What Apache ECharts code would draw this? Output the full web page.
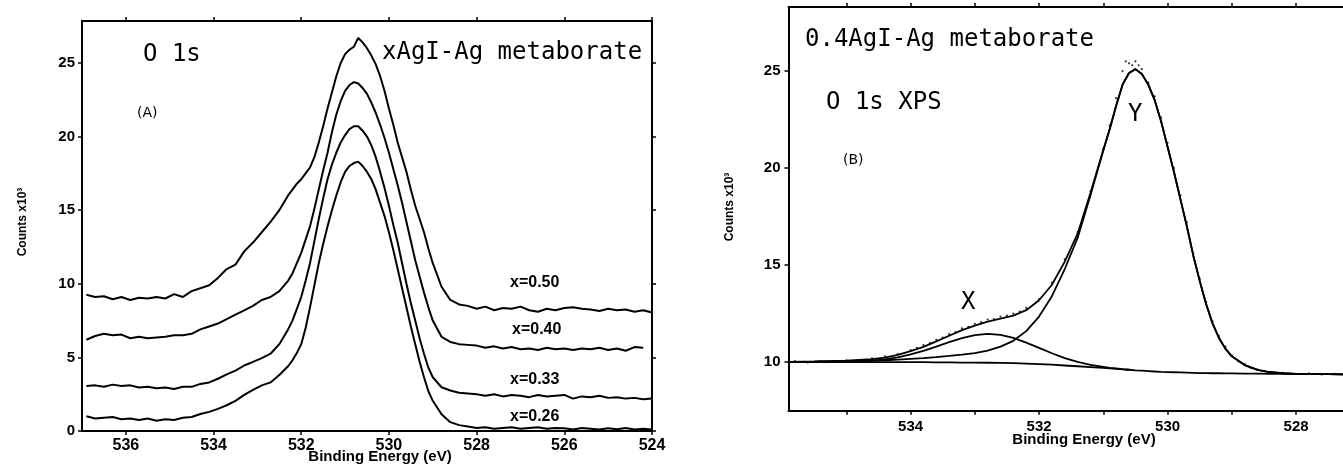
<!DOCTYPE html>
<html>
<head>
<meta charset="utf-8">
<script src="https://cdn.jsdelivr.net/npm/echarts@6/dist/echarts.min.js"></script>
<style>
html,body{margin:0;padding:0;background:#fff;}
#chart{width:1343px;height:467px;}
</style>
</head>
<body>
<div id="chart"></div>
<script>
// ---------- Panel A : O 1s spectra for xAgI-Ag metaborate ----------
const energyA = [536.9,536.7,536.5,536.3,536.1,535.9,535.7,535.5,535.3,535.1,534.9,534.7,534.5,534.3,534.1,533.9,533.7,533.5,533.3,533.1,532.9,532.7,532.5,532.3,
532.2,532.1,532.0,531.9,531.8,531.7,531.6,531.5,531.4,531.3,531.2,531.1,531.0,530.9,530.8,530.7,530.6,530.5,530.4,530.3,530.2,530.1,530.0,529.9,529.8,529.7,529.6,529.5,529.4,529.3,529.2,529.1,529.0,
528.8,528.6,528.4,528.2,528.0,527.8,527.6,527.4,527.2,527.0,526.8,526.6,526.4,526.2,526.0,525.8,525.6,525.4,525.2,525.0,524.8,524.6,524.4,524.2,524.0];

const countsX050 = [9.25,9.1,9.15,8.95,9.1,8.9,9.05,9.0,9.1,9.0,9.3,9.1,9.5,9.7,9.9,10.4,11.0,11.3,12.2,12.8,13.5,14.2,15.0,16.0,
16.4,16.8,17.1,17.5,17.9,18.6,19.6,20.7,21.9,23.0,24.1,25.0,25.6,25.9,26.1,26.7,26.4,26.0,25.5,24.9,24.1,23.1,21.9,20.8,19.6,18.6,17.6,16.4,15.3,14.4,13.5,12.4,11.4,
9.8,8.9,8.6,8.5,8.3,8.45,8.2,8.35,8.3,8.45,8.2,8.1,8.3,8.2,8.35,8.4,8.3,8.25,8.15,8.3,8.2,8.25,8.1,8.2,8.05];

const countsX040 = [6.2,6.45,6.6,6.5,6.55,6.3,6.4,6.3,6.35,6.4,6.5,6.5,6.6,6.9,7.1,7.3,7.6,7.9,8.2,8.5,8.9,9.1,9.5,10.2,
10.7,11.4,12.1,13.0,13.9,15.1,16.4,17.7,18.9,20.3,21.5,22.4,23.1,23.5,23.7,23.6,23.3,22.9,22.3,21.6,20.8,19.9,18.9,17.8,16.7,15.5,14.2,12.9,11.6,10.5,9.4,8.4,7.5,
6.4,6.05,5.9,5.85,5.8,5.65,5.75,5.6,5.7,5.55,5.6,5.5,5.65,5.55,5.6,5.5,5.6,5.55,5.65,5.5,5.6,5.45,5.7,5.65,null];

const countsX033 = [3.05,3.1,3.0,3.15,3.05,3.1,2.95,3.0,2.9,2.95,2.85,3.0,3.0,3.2,3.3,3.55,3.85,4.1,4.45,4.7,4.95,5.25,5.9,6.9,
7.5,8.3,9.1,10.2,11.4,12.9,14.4,15.8,17.1,18.1,18.9,19.6,20.1,20.5,20.7,20.7,20.4,20.0,19.4,18.6,17.6,16.5,15.3,14.0,12.8,11.4,10.0,8.7,7.5,6.3,5.25,4.3,3.65,
2.97,2.75,2.6,2.55,2.5,2.4,2.5,2.35,2.45,2.4,2.3,2.45,2.35,2.4,2.45,2.2,2.35,2.3,2.4,2.25,2.3,2.2,2.25,2.15,2.2];

const countsX026 = [1.0,0.85,0.9,0.95,0.8,0.85,0.75,0.85,0.7,0.8,0.75,0.9,0.95,1.15,1.3,1.5,1.75,2.05,2.45,2.8,3.1,3.3,3.8,4.4,
4.8,5.3,5.9,7.0,8.4,9.9,11.4,12.7,13.9,15.0,16.0,16.9,17.6,18.0,18.2,18.3,18.0,17.6,17.1,16.4,15.5,14.6,13.5,12.3,11.0,9.7,8.4,7.1,5.9,4.7,3.65,2.7,2.05,
1.14,0.6,0.4,0.3,0.2,0.25,0.15,0.2,0.25,0.15,0.2,0.25,0.15,0.2,0.18,0.1,0.2,0.15,0.1,0.18,0.12,0.2,0.1,0.15,0.1];

const ticksAX = [524,526,528,530,532,534,536];
const ticksAY = [0,5,10,15,20,25];

// ---------- Panel B : 0.4AgI-Ag metaborate, O 1s XPS fit ----------
const energyB = [535.9,535.5,535.0,534.6,534.4,534.2,534.0,533.8,533.6,533.4,533.2,533.0,532.8,532.6,532.4,532.2,532.0,531.8,531.6,531.4,531.2,531.0,
530.9,530.8,530.7,530.6,530.5,530.4,530.3,530.2,530.1,530.0,529.9,529.8,529.7,529.6,529.5,529.4,529.3,529.2,529.1,529.0,528.8,528.6,528.4,528.2,528.0,527.5,527.0];

const backgroundB = [10.0,10.0,10.0,10.0,10.0,10.0,10.0,10.0,9.99,9.99,9.98,9.98,9.97,9.96,9.95,9.93,9.9,9.87,9.83,9.79,9.75,9.71,
9.68,9.66,9.63,9.61,9.58,9.56,9.54,9.52,9.5,9.49,9.48,9.47,9.46,9.45,9.44,9.44,9.43,9.43,9.42,9.42,9.41,9.41,9.4,9.4,9.39,9.38,9.37];

const peakXB = [10.0,10.01,10.03,10.08,10.14,10.25,10.4,10.58,10.8,11.03,11.24,11.39,11.46,11.41,11.25,11.01,10.74,10.46,10.21,10.01,9.86,9.76,
9.71,9.68,9.64,9.61,null,null,null,null,null,null,null,null,null,null,null,null,null,null,null,null,null,null,null,null,null,null,null];

const peakYB = [10.02,10.03,10.05,10.08,10.1,10.13,10.17,10.21,10.26,10.32,10.39,10.47,10.6,10.8,11.1,11.6,12.35,13.4,14.8,16.4,18.6,20.9,
22.0,23.2,24.3,24.9,25.1,24.85,24.3,23.5,22.4,21.1,19.8,18.4,17.0,15.5,14.2,13.0,12.0,11.25,10.7,10.3,9.85,9.6,9.48,9.43,9.4,9.38,9.37];

const envelopeB = [10.02,10.04,10.08,10.16,10.24,10.38,10.57,10.79,11.07,11.36,11.65,11.88,12.09,12.25,12.4,12.68,13.19,13.99,15.18,16.62,18.71,20.95,
22.03,23.22,24.31,24.9,25.1,24.85,24.3,23.5,22.4,21.1,19.8,18.4,17.0,15.5,14.2,13.0,12.0,11.25,10.7,10.3,9.85,9.6,9.48,9.43,9.4,9.38,9.37];

const measuredB = [[535.8,10.05],[535.6,9.98],[535.4,10.06],[535.2,10.02],[535.0,10.1],[534.8,10.08],[534.6,10.2],[534.4,10.3],[534.2,10.42],[534.0,10.62],
[533.9,10.74],[533.8,10.88],[533.7,10.98],[533.6,11.15],[533.5,11.26],[533.4,11.45],[533.3,11.55],[533.2,11.74],[533.1,11.82],[533.0,11.98],
[532.9,12.06],[532.8,12.2],[532.7,12.22],[532.6,12.35],[532.5,12.4],[532.4,12.5],[532.3,12.6],[532.2,12.8],[532.0,13.25],[531.8,14.1],
[531.6,15.3],[531.4,16.7],[531.2,18.8],[531.0,21.0],[530.9,22.2],[530.8,23.6],[530.7,25.0],[530.65,25.5],[530.6,25.4],[530.55,25.3],
[530.5,25.5],[530.45,25.3],[530.4,25.1],[530.3,24.4],[530.2,23.7],[530.1,22.6],[530.0,21.3],[529.9,20.0],[529.8,18.6],[529.7,17.2],
[529.6,15.6],[529.5,14.3],[529.4,13.1],[529.3,12.1],[529.2,11.35],[529.1,10.8],[529.0,10.35],[528.9,10.05],[528.8,9.9],[528.7,9.7],
[528.6,9.62],[528.5,9.55],[528.4,9.5],[528.2,9.45],[528.0,9.4],[527.8,9.42],[527.6,9.36],[527.4,9.4],[527.2,9.38]];

const ticksBXLabels = [528,530,532,534];
const ticksBXMarks = [528,529,530,531,532,533,534,535];
const ticksBY = [10,15,20,25];

// ---------- chart ----------
const chart = echarts.init(document.getElementById('chart'), null, {renderer:'canvas'});
const BLACK = '#000';
const axisLine = {show:true, onZero:false, lineStyle:{color:BLACK, width:2}};
const tickStyle = {color:BLACK, width:1.5};
const lblFont = {fontFamily:'Liberation Sans', fontWeight:'bold', color:BLACK};

function pairs(xs, ys){ return xs.map((x,i)=>[x, ys[i]]); }
function lineSeries(data, xi, yi, w){
  return {type:'line', xAxisIndex:xi, yAxisIndex:yi, data:data, showSymbol:false, symbol:'none',
    connectNulls:false, silent:true, animation:false, lineStyle:{color:BLACK, width:w}, z:3};
}

const option = {
  animation:false,
  backgroundColor:'#fff',
  grid:[
    {left:82, top:21, width:570, height:410, containLabel:false, outerBoundsMode:'none'},
    {left:788.5, top:7, width:571.8, height:403.7, containLabel:false, outerBoundsMode:'none'}
  ],
  xAxis:[
    {gridIndex:0, type:'value', position:'bottom', min:524, max:537, inverse:true,
      axisLine:axisLine, splitLine:{show:false},
      axisTick:{show:true, length:4, customValues:ticksAX, lineStyle:tickStyle},
      axisLabel:Object.assign({customValues:ticksAX, fontSize:16, margin:7}, lblFont)},
    {gridIndex:0, type:'value', position:'top', min:524, max:537, inverse:true,
      axisLine:axisLine, splitLine:{show:false},
      axisTick:{show:true, length:4, customValues:ticksAX, lineStyle:tickStyle},
      axisLabel:{show:false}},
    {gridIndex:1, type:'value', position:'bottom', min:527, max:535.9, inverse:true,
      axisLine:axisLine, splitLine:{show:false},
      axisTick:{show:true, length:4, customValues:ticksBXMarks, lineStyle:tickStyle},
      axisLabel:Object.assign({customValues:ticksBXLabels, fontSize:15, margin:9}, lblFont)},
    {gridIndex:1, type:'value', position:'top', min:527, max:535.9, inverse:true,
      axisLine:axisLine, splitLine:{show:false},
      axisTick:{show:true, length:4, customValues:ticksBXMarks, lineStyle:tickStyle},
      axisLabel:{show:false}}
  ],
  yAxis:[
    {gridIndex:0, type:'value', position:'left', min:0, max:27.85,
      axisLine:axisLine, splitLine:{show:false},
      axisTick:{show:true, length:4, customValues:ticksAY, lineStyle:tickStyle},
      axisLabel:Object.assign({customValues:ticksAY, fontSize:15, margin:7}, lblFont)},
    {gridIndex:0, type:'value', position:'right', min:0, max:27.85,
      axisLine:axisLine, splitLine:{show:false},
      axisTick:{show:true, length:4, customValues:ticksAY, lineStyle:tickStyle},
      axisLabel:{show:false}},
    {gridIndex:1, type:'value', position:'left', min:7.5, max:28.3,
      axisLine:axisLine, splitLine:{show:false},
      axisTick:{show:true, length:4, customValues:ticksBY, lineStyle:tickStyle},
      axisLabel:Object.assign({customValues:ticksBY, fontSize:15, margin:8}, lblFont)},
    {gridIndex:1, type:'value', position:'right', min:7.5, max:28.3,
      axisLine:axisLine, splitLine:{show:false},
      axisTick:{show:false}, axisLabel:{show:false}}
  ],
  series:[
    lineSeries(pairs(energyA, countsX050), 0, 0, 2),
    lineSeries(pairs(energyA, countsX040), 0, 0, 2),
    lineSeries(pairs(energyA, countsX033), 0, 0, 2),
    lineSeries(pairs(energyA, countsX026), 0, 0, 2),
    lineSeries(pairs(energyB, backgroundB), 2, 2, 1.8),
    lineSeries(pairs(energyB, peakXB), 2, 2, 1.8),
    lineSeries(pairs(energyB, peakYB), 2, 2, 1.8),
    lineSeries(pairs(energyB, envelopeB), 2, 2, 1.8),
    {type:'scatter', xAxisIndex:2, yAxisIndex:2, data:measuredB, symbol:'circle', symbolSize:2.2,
      silent:true, animation:false, itemStyle:{color:BLACK}, z:4}
  ],
  graphic:[
    // Panel A texts
    {type:'text', left:null, x:143, y:55, style:{text:'O 1s', font:'24px "DejaVu Sans Mono"', fill:BLACK, textAlign:'left', textVerticalAlign:'middle'}},
    {type:'text', x:382, y:53, style:{text:'xAgI-Ag metaborate', font:'24px "DejaVu Sans Mono"', fill:BLACK, textAlign:'left', textVerticalAlign:'middle'}},
    {type:'text', x:137, y:113, style:{text:'(A)', font:'14px "DejaVu Sans"', fill:BLACK, textAlign:'left', textVerticalAlign:'middle'}},
    {type:'text', x:510, y:283, style:{text:'x=0.50', font:'bold 16px "Liberation Sans"', fill:BLACK, textAlign:'left', textVerticalAlign:'middle'}},
    {type:'text', x:512, y:330, style:{text:'x=0.40', font:'bold 16px "Liberation Sans"', fill:BLACK, textAlign:'left', textVerticalAlign:'middle'}},
    {type:'text', x:510, y:380, style:{text:'x=0.33', font:'bold 16px "Liberation Sans"', fill:BLACK, textAlign:'left', textVerticalAlign:'middle'}},
    {type:'text', x:510, y:417, style:{text:'x=0.26', font:'bold 16px "Liberation Sans"', fill:BLACK, textAlign:'left', textVerticalAlign:'middle'}},
    {type:'text', x:380, y:457, style:{text:'Binding Energy (eV)', font:'bold 15px "Liberation Sans"', fill:BLACK, textAlign:'center', textVerticalAlign:'middle'}},
    {type:'text', x:23, y:222, rotation:Math.PI/2, style:{text:'Counts x10³', font:'bold 12px "Liberation Sans"', fill:BLACK, textAlign:'center', textVerticalAlign:'middle'}},
    // Panel B texts
    {type:'text', x:805, y:40, style:{text:'0.4AgI-Ag metaborate', font:'24px "DejaVu Sans Mono"', fill:BLACK, textAlign:'left', textVerticalAlign:'middle'}},
    {type:'text', x:826, y:103, style:{text:'O 1s XPS', font:'24px "DejaVu Sans Mono"', fill:BLACK, textAlign:'left', textVerticalAlign:'middle'}},
    {type:'text', x:843, y:160, style:{text:'(B)', font:'14px "DejaVu Sans"', fill:BLACK, textAlign:'left', textVerticalAlign:'middle'}},
    {type:'text', x:1128, y:115, style:{text:'Y', font:'24px "DejaVu Sans Mono"', fill:BLACK, textAlign:'left', textVerticalAlign:'middle'}},
    {type:'text', x:961, y:303, style:{text:'X', font:'24px "DejaVu Sans Mono"', fill:BLACK, textAlign:'left', textVerticalAlign:'middle'}},
    {type:'text', x:1084, y:440, style:{text:'Binding Energy (eV)', font:'bold 15px "Liberation Sans"', fill:BLACK, textAlign:'center', textVerticalAlign:'middle'}},
    {type:'text', x:730, y:207, rotation:Math.PI/2, style:{text:'Counts x10³', font:'bold 12px "Liberation Sans"', fill:BLACK, textAlign:'center', textVerticalAlign:'middle'}}
  ]
};
chart.setOption(option);
</script>
</body>
</html>
